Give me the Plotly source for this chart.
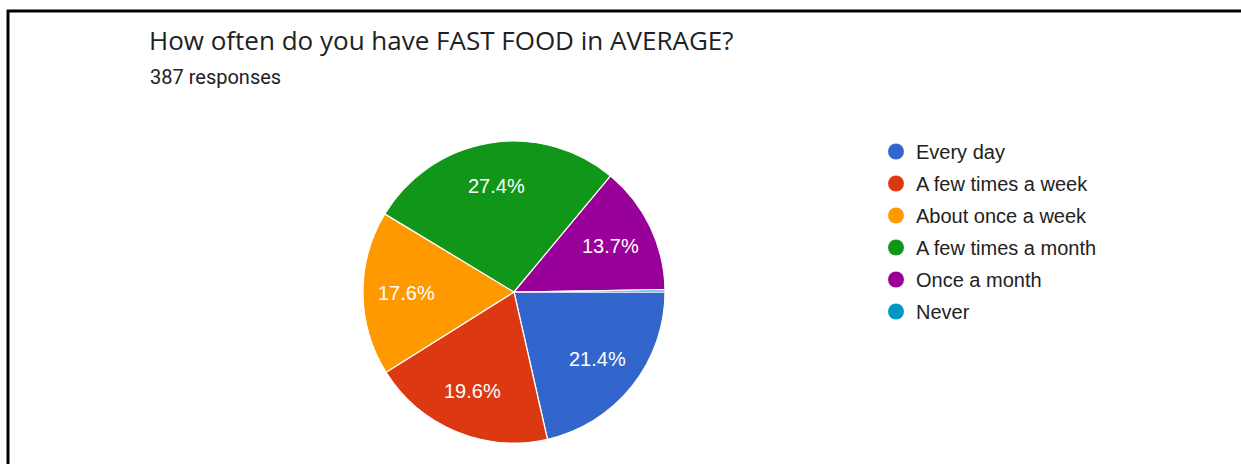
import math
import plotly.graph_objects as go

# Survey answers for "How often do you have FAST FOOD in AVERAGE?"
categories = ["Every day", "A few times a week", "About once a week",
              "A few times a month", "Once a month", "Never"]
counts = [83, 76, 68, 106, 53, 1]
colors = ["#3366cc", "#dc3912", "#ff9900", "#109618", "#990099", "#0099c6"]

title_text = "How often do you have FAST FOOD in AVERAGE?"
total = sum(counts)
subtitle_text = f"{total} responses"

W, H = 1241, 464
cx, cy, r = 514, 292, 151  # pie centre and radius in pixels
start_deg = 90               # first slice starts at 3 o'clock
label_frac = 0.71            # percentage labels sit at this fraction of the radius

fig = go.Figure()
fig.add_trace(go.Pie(
    labels=categories,
    values=counts,
    textinfo="none",
    marker=dict(colors=colors, line=dict(color="white", width=1.2)),
    sort=False,
    direction="clockwise",
    rotation=start_deg,
    showlegend=False,
    hoverinfo="label+percent",
    domain=dict(x=[(cx - r) / W, (cx + r) / W],
                y=[(H - cy - r) / H, (H - cy + r) / H]),
))

# percentage labels at each slice's mid-angle (slices under 2% unlabelled)
annotations = []
cum = 0
for c in counts:
    frac = c / total
    mid = (cum + frac / 2) * 2 * math.pi  # clockwise from 3 o'clock
    cum += frac
    if frac < 0.02:
        continue
    px = cx + label_frac * r * math.cos(mid)
    py = cy + label_frac * r * math.sin(mid)
    annotations.append(dict(
        text=f"{frac * 100:.1f}%", x=px / W, y=1 - py / H,
        xref="paper", yref="paper", xanchor="center", yanchor="middle",
        showarrow=False,
        font=dict(family="Liberation Sans, Arial", size=20, color="white"),
    ))

annotations += [
    dict(text=title_text, x=147 / W, y=1 - 40 / H, xref="paper", yref="paper",
         xanchor="left", yanchor="middle", showarrow=False,
         font=dict(family="Open Sans", size=26, color="#202124")),
    dict(text=subtitle_text, x=148 / W, y=1 - 77 / H, xref="paper", yref="paper",
         xanchor="left", yanchor="middle", showarrow=False,
         font=dict(family="Roboto", size=20, color="#202124")),
]

# circular legend markers, one group per category
for i, (name, col) in enumerate(zip(categories, colors)):
    fig.add_trace(go.Scatter(
        x=[None], y=[None], mode="markers", name=name,
        legendgroup=f"g{i}",
        marker=dict(symbol="circle", size=20, color=col),
        showlegend=True,
    ))

fig.update_layout(
    width=W, height=H,
    margin=dict(l=0, r=0, t=0, b=0),
    paper_bgcolor="white",
    plot_bgcolor="white",
    xaxis=dict(visible=False, domain=[0.9, 0.91]),
    yaxis=dict(visible=False, domain=[0.9, 0.91]),
    legend=dict(
        x=876 / W, y=1 - 132 / H, xanchor="left", yanchor="top",
        font=dict(family="Liberation Sans, Arial", size=20, color="#222222"),
        tracegroupgap=3,
        itemclick=False, itemdoubleclick=False,
        bgcolor="rgba(0,0,0,0)",
    ),
    annotations=annotations,
    shapes=[
        # frame: top edge and left edge
        dict(type="line", xref="paper", yref="paper",
             x0=7 / W, x1=1, y0=1 - 11 / H, y1=1 - 11 / H,
             line=dict(color="black", width=3)),
        dict(type="line", xref="paper", yref="paper",
             x0=8 / W, x1=8 / W, y0=0, y1=1 - 10 / H,
             line=dict(color="black", width=3)),
    ],
)

fig.write_html("out.html")
